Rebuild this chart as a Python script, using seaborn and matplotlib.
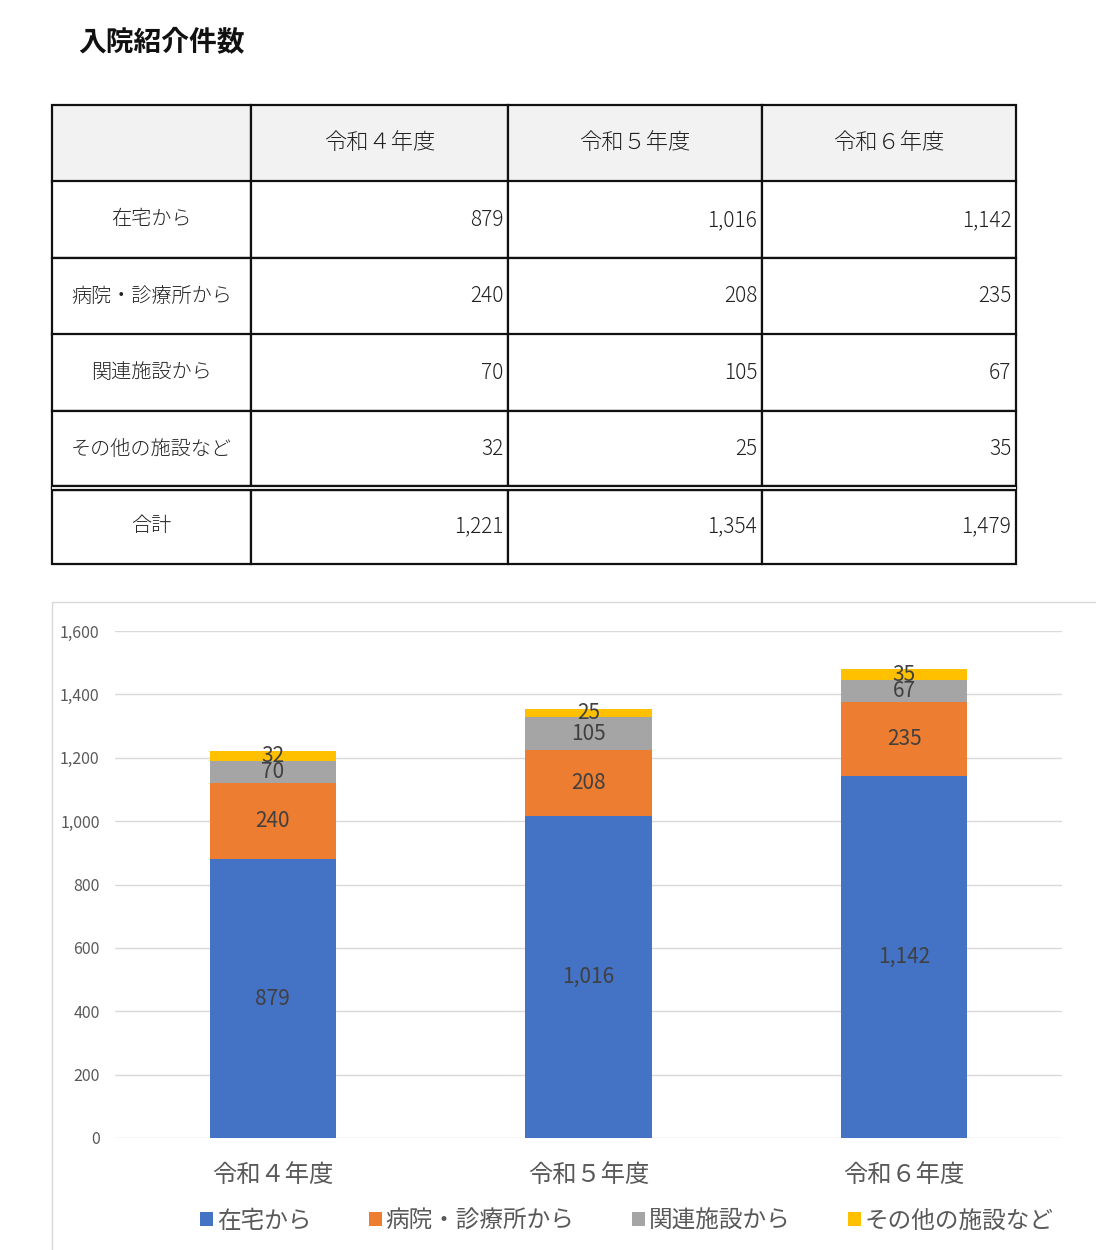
import numpy as np
import matplotlib.pyplot as plt
import seaborn as sns
from matplotlib.lines import Line2D
from matplotlib.patches import Rectangle

# data
years = ["令和４年度", "令和５年度", "令和６年度"]
sources = ["在宅から", "病院・診療所から", "関連施設から", "その他の施設など"]
from_home = [879, 1016, 1142]
from_hospital = [240, 208, 235]
from_related = [70, 105, 67]
from_other = [32, 25, 35]
colors = ["#4472C4", "#ED7D31", "#A5A5A5", "#FFC000"]

series = [from_home, from_hospital, from_related, from_other]
totals = [sum(v) for v in zip(*series)]

sns.set_theme(style="white")
plt.rcParams["font.family"] = ["Noto Sans CJK JP", "DejaVu Sans"]

W, H = 1096, 1250
fig = plt.figure(figsize=(W / 100, H / 100), dpi=100)


def fx(px):
    return px / W


def fy(py):
    return 1 - py / H


fig.text(fx(78), fy(42), "入院紹介件数", fontsize=20, fontweight="bold",
         ha="left", va="center", color="#111111")

# table
tab_ax = fig.add_axes([0, 0, 1, 1])
tab_ax.axis("off")
cells = [[""] + years]
cells += [[name] + [f"{v:,}" for v in vals] for name, vals in zip(sources, series)]
cells.append(["合計"] + [f"{t:,}" for t in totals])
tbl = tab_ax.table(cellText=cells, colWidths=[199, 257, 254, 254], cellLoc="right",
                   bbox=[fx(52), fy(564), fx(1016) - fx(52), fy(105) - fy(564)])
tbl.auto_set_font_size(False)
for (r, c), cell in tbl.get_celld().items():
    cell.set_linewidth(1.6)
    cell.set_edgecolor("#111111")
    cell.PAD = 0.018
    txt = cell.get_text()
    txt.set_color("#222222")
    txt.set_fontsize(15)
    txt.set_fontweight("light")
    if r == 0:
        cell.set_facecolor("#f2f2f2")
        txt.set_fontsize(16)
        txt.set_horizontalalignment("center")
    if c == 0:
        txt.set_horizontalalignment("center")
        txt.set_fontsize(14.5)

# double line above the total row
yb = fy(105 + 5 * 459 / 6)
fig.add_artist(Line2D([fx(52), fx(1016)], [yb, yb], color="#111111", lw=4.6,
                      solid_capstyle="butt", transform=fig.transFigure))
fig.add_artist(Line2D([fx(52), fx(1016)], [yb, yb], color="white", lw=1.3,
                      solid_capstyle="butt", transform=fig.transFigure))

# chart frame
fig.add_artist(Rectangle((fx(52), fy(1300)), fx(1150) - fx(52), fy(602) - fy(1300),
                         transform=fig.transFigure, fill=False, ec="#d9d9d9", lw=1))

ax = fig.add_axes([fx(115), fy(1138), fx(1062) - fx(115), fy(631) - fy(1138)])
bottom = np.zeros(len(years))
for name, vals, col in zip(sources, series, colors):
    sns.barplot(x=years, y=vals, bottom=bottom.copy(), color=col, saturation=1,
                width=0.4, errorbar=None, label=name, linewidth=0, ax=ax)
    ax.bar_label(ax.containers[-1], labels=[f"{v:,}" for v in vals],
                 label_type="center", fontsize=15, color="#404040")
    bottom += np.array(vals)

if ax.get_legend() is not None:
    ax.get_legend().remove()

ax.set_ylim(0, 1600)
ax.set_yticks(range(0, 1601, 200))
ax.set_yticklabels([f"{t:,}" for t in range(0, 1601, 200)])
ax.set(xlabel="", ylabel="")
ax.yaxis.grid(True, color="#d9d9d9", lw=1)
ax.set_axisbelow(True)
sns.despine(ax=ax, left=True, bottom=True)
ax.tick_params(axis="y", length=0, pad=11, labelsize=11.5, labelcolor="#595959")
ax.tick_params(axis="x", length=0, pad=17, labelsize=17.5, labelcolor="#595959")

handles, labels = ax.get_legend_handles_labels()
fig.legend(handles, labels, loc="center", bbox_to_anchor=(fx(627), fy(1221)),
           ncol=4, frameon=False, fontsize=17, labelcolor="#595959",
           handlelength=0.55, handleheight=0.55, handletextpad=0.15,
           columnspacing=2.45)

fig.savefig("out.png", dpi=100, facecolor="white")
